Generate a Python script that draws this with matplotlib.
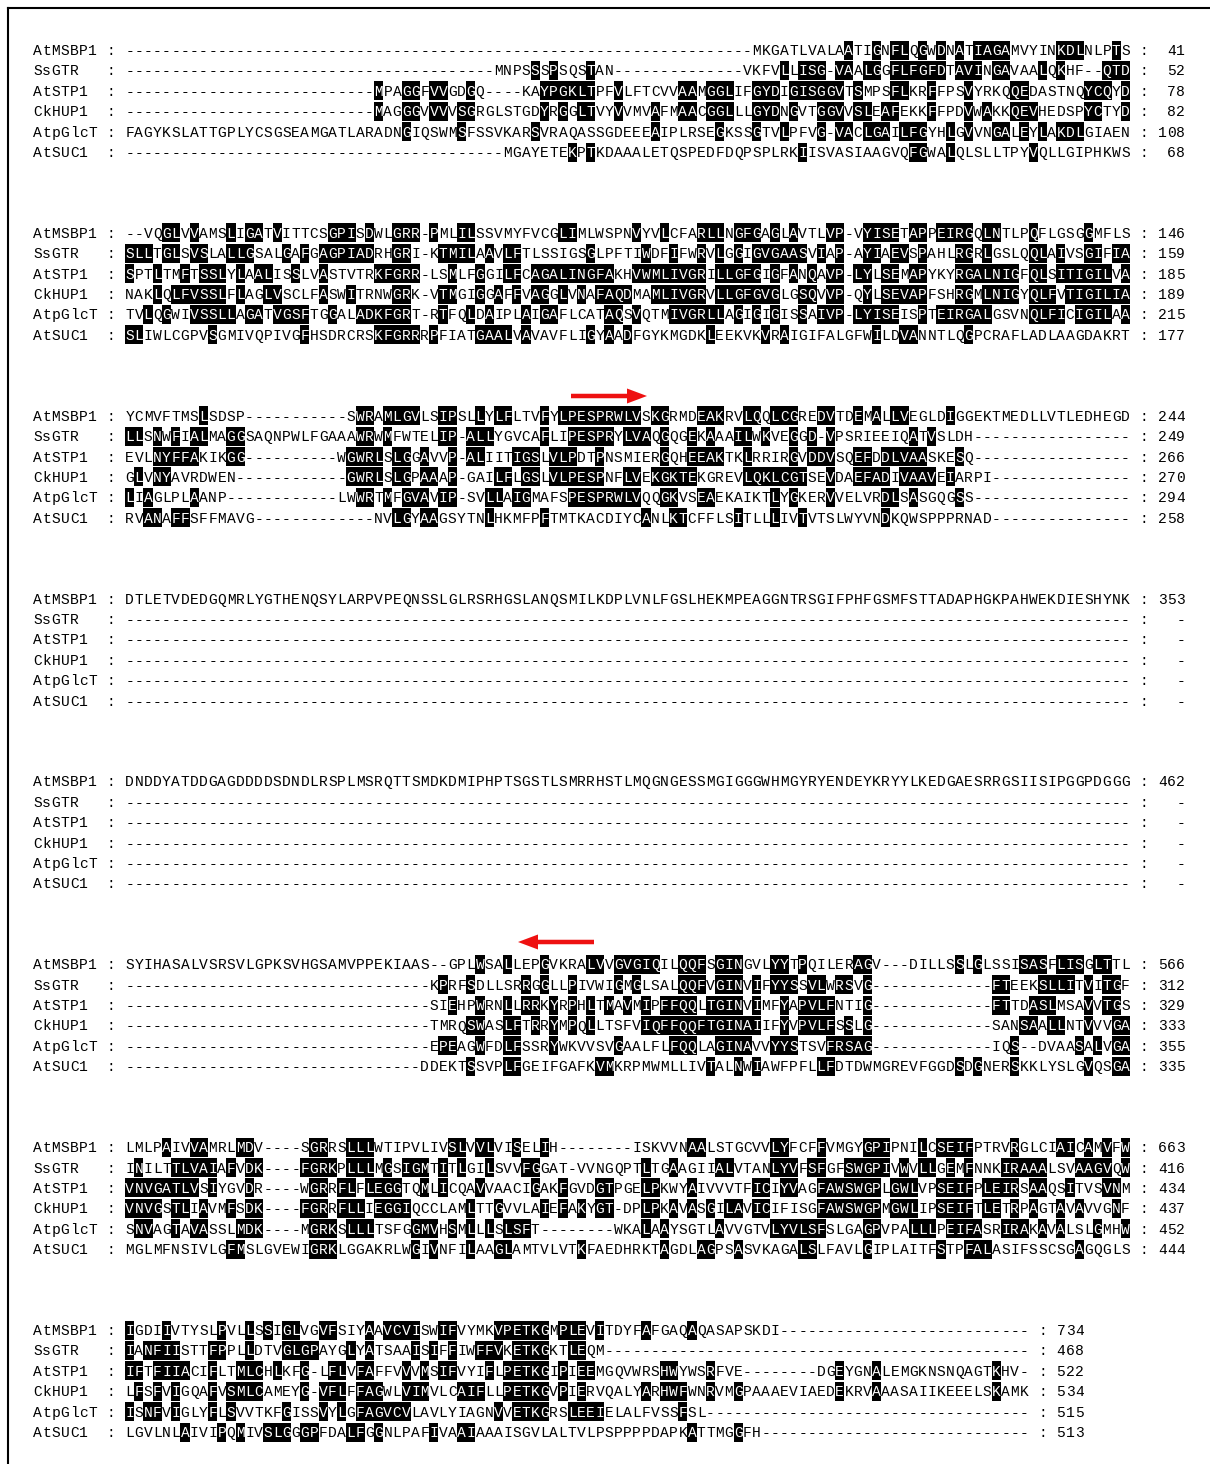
import matplotlib
matplotlib.use("Agg")
import matplotlib.pyplot as plt
from matplotlib.patches import Rectangle, FancyArrow
from collections import Counter

names = ["AtMSBP1", "SsGTR", "AtSTP1", "CkHUP1", "AtpGlcT", "AtSUC1"]

# alignment, one list per block (one string per sequence)
block1 = [
    "-" * 68 + "MKGATLVALAATIGNFLQGWDNATIAGAMVYINKDLNLPTS",
    "-" * 40 + "MNPSSSPSQSTAN" + "-" * 14 + "VKFVLLISG-VAALGGFLFGFDTAVINGAVAALQKHF--QTD",
    "-" * 27 + "MPAGGFVVGDGQ----KAYPGKLTPFVLFTCVVAAMGGLIFGYDIGISGGVTSMPSFLKRFFPSVYRKQQEDASTNQYCQYD",
    "-" * 27 + "MAGGGVVVVSGRGLSTGDYRGGLTVYVVMVAFMAACGGLLLGYDNGVTGGVVSLEAFEKKFFPDVWAKKQEVHEDSPYCTYD",
    "FAGYKSLATTGPLYCSGSEAMGATLARADNGIQSWMSFSSVKARSVRAQASSGDEEEAIPLRSEGKSSGTVLPFVG-VACLGAILFGYHLGVVNGALEYLAKDLGIAEN",
    "-" * 41 + "MGAYETEKPTKDAAALETQSPEDFDQPSPLRKIISVASIAAGVQFGWALQLSLLTPYVQLLGIPHKWS",
]
block2 = [
    "--VQGLVVAMSLIGATVITTCSGPISDWLGRR-PMLILSSVMYFVCGLIMLWSPNVYVLCFARLLNGFGAGLAVTLVP-VYISETAPPEIRGQLNTLPQFLGSGGMFLS",
    "SLLTGLSVSLALLGSALGAFGAGPIADRHGRI-KTMILAAVLFTLSSIGSGLPFTIWDFIFWRVLGGIGVGAASVIAP-AYIAEVSPAHLRGRLGSLQQLAIVSGIFIA",
    "SPTLTMFTSSLYLAALISSLVASTVTRKFGRR-LSMLFGGILFCAGALINGFAKHVWMLIVGRILLGFGIGFANQAVP-LYLSEMAPYKYRGALNIGFQLSITIGILVA",
    "NAKLQLFVSSLFLAGLVSCLFASWITRNWGRK-VTMGIGGAFFVAGGLVNAFAQDMAMLIVGRVLLGFGVGLGSQVVP-QYLSEVAPFSHRGMLNIGYQLFVTIGILIA",
    "TVLQGWIVSSLLAGATVGSFTGGALADKFGRT-RTFQLDAIPLAIGAFLCATAQSVQTMIVGRLLAGIGIGISSAIVP-LYISEISPTEIRGALGSVNQLFICIGILAA",
    "SLIWLCGPVSGMIVQPIVGFHSDRCRSKFGRRRPFIATGAALVAVAVFLIGYAADFGYKMGDKLEEKVKVRAIGIFALGFWILDVANNTLQGPCRAFLADLAAGDAKRT",
]
block3 = [
    "YCMVFTMSLSDSP" + "-" * 11 + "SWRAMLGVLSIPSLLYLFLTVFYLPESPRWLVSKGRMDEAKRVLQQLCGREDVTDEMALLVEGLDIGGEKTMEDLLVTLEDHEGD",
    "LLSNWFIALMAGGSAQNPWLFGAAAWRWMFWTELIP-ALLYGVCAFLIPESPRYLVAQGQGEKAAAILWKVEGGD-VPSRIEEIQATVSLDH" + "-" * 17,
    "EVLNYFFAKIKGG" + "-" * 10 + "WGWRLSLGGAVVP-ALIITIGSLVLPDTPNSMIERGQHEEAKTKLRRIRGVDDVSQEFDDLVAASKESQ" + "-" * 17,
    "GLVNYAVRDWEN" + "-" * 12 + "GWRLSLGPAAAP-GAILFLGSLVLPESPNFLVEKGKTEKGREVLQKLCGTSEVDAEFADIVAAVEIARPI" + "-" * 15,
    "LIAGLPLAANP" + "-" * 12 + "LWWRTMFGVAVIP-SVLLAIGMAFSPESPRWLVQQGKVSEAEKAIKTLYGKERVVELVRDLSASGQGSS" + "-" * 17,
    "RVANAFFSFFMAVG" + "-" * 13 + "NVLGYAAGSYTNLHKMFPFTMTKACDIYCANLKTCFFLSITLLLIVTVTSLWYVNDKQWSPPPRNAD" + "-" * 15,
]
block4 = [
    "DTLETVDEDGQMRLYGTHENQSYLARPVPEQNSSLGLRSRHGSLANQSMILKDPLVNLFGSLHEKMPEAGGNTRSGIFPHFGSMFSTTADAPHGKPAHWEKDIESHYNK",
] + ["-" * 109] * 5
block5 = [
    "DNDDYATDDGAGDDDDSDNDLRSPLMSRQTTSMDKDMIPHPTSGSTLSMRRHSTLMQGNGESSMGIGGGWHMGYRYENDEYKRYYLKEDGAESRRGSIISIPGGPDGGG",
] + ["-" * 109] * 5
block6 = [
    "SYIHASALVSRSVLGPKSVHGSAMVPPEKIAAS--GPLWSALLEPGVKRALVVGVGIQILQQFSGINGVLYYTPQILERAGV---DILLSSLGLSSISASFLISGLTTL",
    "-" * 33 + "KPRFSDLLSRRGGLLPIVWIGMGLSALQQFVGINVIFYYSSVLWRSVG" + "-" * 13 + "FTEEKSLLITVITGF",
    "-" * 33 + "SIEHPWRNLLRRKYRPHLTMAVMIPFFQQLTGINVIMFYAPVLFNTIG" + "-" * 13 + "FTTDASLMSAVVTGS",
    "-" * 33 + "TMRQSWASLFTRRYMPQLLTSFVIQFFQQFTGINAIIFYVPVLFSSLG" + "-" * 13 + "SANSAALLNTVVVGA",
    "-" * 33 + "EPEAGWFDLFSSRYWKVVSVGAALFLFQQLAGINAVVYYSTSVFRSAG" + "-" * 13 + "IQS--DVAASALVGA",
    "-" * 32 + "DDEKTSSVPLFGEIFGAFKVMKRPMWMLLIVTALNWIAWFPFLLFDTDWMGREVFGGDSDGNERSKKLYSLGVQSGA",
]
block7 = [
    "LMLPAIVVAMRLMDV----SGRRSLLLWTIPVLIVSLVVLVISELIH--------ISKVVNAALSTGCVVLYFCFFVMGYGPIPNILCSEIFPTRVRGLCIAICAMVFW",
    "INILTTLVAIAFVDK----FGRKPLLLMGSIGMTITLGILSVVFGGAT-VVNGQPTLTGAAGIIALVTANLYVFSFGFSWGPIVWVLLGEMFNNKIRAAALSVAAGVQW",
    "VNVGATLVSIYGVDR----WGRRFLFLEGGTQMLICQAVVAACIGAKFGVDGTPGELPKWYAIVVVTFICIYVAGFAWSWGPLGWLVPSEIFPLEIRSAAQSITVSVNM",
    "VNVGSTLIAVMFSDK----FGRRFLLIEGGIQCCLAMLTTGVVLAIEFAKYGT-DPLPKAVASGILAVICIFISGFAWSWGPMGWLIPSEIFTLETRPAGTAVAVVGNF",
    "SNVAGTAVASSLMDK----MGRKSLLLTSFGGMVHSMLLLSLSFT--------WKALAAYSGTLAVVGTVLYVLSFSLGAGPVPALLLPEIFASRIRAKAVALSLGMHW",
    "MGLMFNSIVLGFMSLGVEWIGRKLGGAKRLWGIVNFILAAGLAMTVLVTKFAEDHRKTAGDLAGPSASVKAGALSLFAVLGIPLAITFSTPFALASIFSSCSGAGQGLS",
]
block8 = [
    "IGDIIVTYSLPVLLSSIGLVGVFSIYAAVCVISWIFVYMKVPETKGMPLEVITDYFAFGAQAQASAPSKDI" + "-" * 27,
    "IANFIISTTFPPLLDTVGLGPAYGLYATSAAISIFFIWFFVKETKGKTLEQM" + "-" * 46,
    "IFTFIIACIFLTMLCHLKFG-LFLVFAFFVVVMSIFVYIFLPETKGIPIEEMGQVWRSHWYWSRFVE--------DGEYGNALEMGKNSNQAGTKHV-",
    "LFSFVIGQAFVSMLCAMEYG-VFLFFAGWLVIMVLCAIFLLPETKGVPIERVQALYARHWFWNRVMGPAAAEVIAEDEKRVAAASAIIKEEELSKAMK",
    "ISNFVIGLYFLSVVTKFGISSVYLGFAGVCVLAVLYIAGNVVETKGRSLEEIELALFVSSFSL" + "-" * 35,
    "LGVLNLAIVIPQMIVSLGGGPFDALFGGNLPAFIVAAIAAAISGVLALTVLPSPPPPDAPKATTMGGFH" + "-" * 29,
]

ends1 = ["41", "52", "78", "82", "108", "68"]
ends2 = ["146", "159", "185", "189", "215", "177"]
ends3 = ["244", "249", "266", "270", "294", "258"]
ends4 = ["353", "-", "-", "-", "-", "-"]
ends5 = ["462", "-", "-", "-", "-", "-"]
ends6 = ["566", "312", "329", "333", "355", "335"]
ends7 = ["663", "416", "434", "437", "452", "444"]
ends8 = ["734", "468", "522", "534", "515", "513"]

blocks = [block1, block2, block3, block4, block5, block6, block7, block8]
ends = [ends1, ends2, ends3, ends4, ends5, ends6, ends7, ends8]


def conserved(rows):
    # shade the most frequent residue of each column (needs 2+ copies)
    mask = [[False] * len(r) for r in rows]
    for c in range(len(rows[0])):
        cnt = Counter(r[c] for r in rows if c < len(r) and r[c] != "-")
        if not cnt:
            continue
        best = max(cnt.values())
        if best < 2:
            continue
        res = min(k for k, v in cnt.items() if v == best)
        for i, r in enumerate(rows):
            if c < len(r) and r[c] == res:
                mask[i][c] = True
    return mask


W, H = 1210, 1464
fig = plt.figure(figsize=(W / 100, H / 100), dpi=100)
ax = fig.add_axes([0, 0, 1, 1])
ax.set_xlim(0, W)
ax.set_ylim(H, 0)
ax.axis("off")

x_seq = 125      # left edge of alignment column 1
cw = 9.22        # character pitch
y_first = 50
row_h = 20.4
block_h = 182.86
font = dict(family=["Liberation Mono", "DejaVu Sans Mono"], fontsize=10.5)

for b, (rows, nums) in enumerate(zip(blocks, ends)):
    mask = conserved(rows)
    for r, (name, seq, num) in enumerate(zip(names, rows, nums)):
        y = y_first + b * block_h + r * row_h
        line = f"{name:<8}: {seq} : {num:>3}"
        for k, ch in enumerate(line):
            if ch == " ":
                continue
            j = k - 10
            x = x_seq + j * cw
            dark = 0 <= j < len(seq) and mask[r][j]
            if dark:
                ax.add_patch(Rectangle((x, y - 9.5), cw, 19, facecolor="black",
                                       edgecolor="none", antialiased=False))
            ax.text(x + cw / 2, y + 5, ch, ha="center", va="baseline",
                    color="white" if dark else "black", **font)

# red arrows marking the region
ax.add_patch(FancyArrow(571, 396, 76, 0, width=4.5, head_width=15, head_length=20,
                        length_includes_head=True, color="#ee1111", lw=0))
ax.add_patch(FancyArrow(594, 942, -76, 0, width=4.5, head_width=15, head_length=20,
                        length_includes_head=True, color="#ee1111", lw=0))

# frame
ax.plot([8, 8], [8, H], color="black", lw=1.5)
ax.plot([8, W], [8, 8], color="black", lw=1.5)

fig.savefig("out.png", dpi=100)
